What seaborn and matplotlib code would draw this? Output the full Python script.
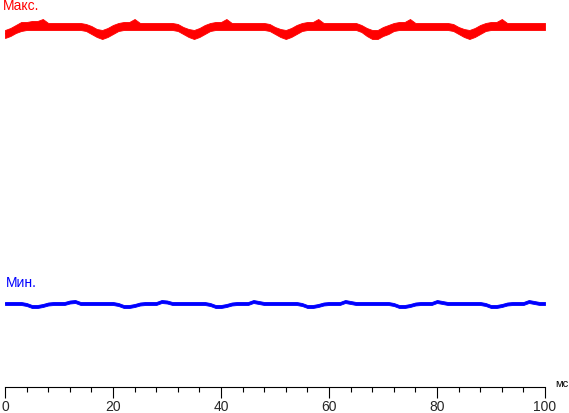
import pandas as pd
import seaborn as sns
import matplotlib.pyplot as plt
from matplotlib.ticker import MultipleLocator

# time axis, ms
t_ms = list(range(0, 101))

# envelope of the traces (units = px above the axis line)
max_top = [357, 359, 362, 365, 365, 366, 366, 368, 364, 364,
           364, 364, 364, 364, 364, 363, 361, 358, 357, 359,
           362, 364, 365, 365, 368, 364, 364, 364, 364, 364,
           364, 364, 363, 360, 358, 357, 359, 362, 364, 365,
           365, 368, 364, 364, 364, 364, 364, 364, 364, 363,
           360, 358, 357, 359, 362, 364, 365, 365, 368, 364,
           364, 364, 364, 364, 364, 364, 362, 359, 357, 357,
           360, 362, 364, 365, 365, 368, 364, 364, 364, 364,
           364, 364, 364, 363, 360, 358, 357, 359, 362, 364,
           365, 365, 368, 364, 364, 364, 364, 364, 364, 364,
           364]
max_bottom = [349, 351, 354, 356, 357, 357, 357, 357, 357, 357,
              357, 357, 357, 357, 357, 356, 353, 350, 348, 350,
              353, 356, 357, 357, 357, 357, 357, 357, 357, 357,
              357, 357, 356, 353, 350, 348, 350, 353, 356, 357,
              357, 357, 357, 357, 357, 357, 357, 357, 357, 356,
              353, 350, 348, 350, 353, 356, 357, 357, 357, 357,
              357, 357, 357, 357, 357, 357, 355, 351, 348, 348,
              351, 353, 356, 357, 357, 357, 357, 357, 357, 357,
              357, 357, 357, 356, 353, 350, 348, 350, 353, 356,
              357, 357, 357, 357, 357, 357, 357, 357, 357, 357,
              357]
min_top = [85, 85, 85, 85, 84, 82, 82, 83, 84.5, 85,
           85, 85, 86.5, 87, 85, 85, 85, 85, 85, 85,
           85, 84, 82, 82, 83, 84.5, 85, 85, 85, 87,
           86.5, 85, 85, 85, 85, 85, 85, 85, 84, 82,
           82, 83, 84.5, 85, 85, 85, 87, 86, 85, 85,
           85, 85, 85, 85, 85, 84, 82, 82, 83, 84.5,
           85, 85, 85, 87, 86, 85, 85, 85, 85, 85,
           85, 85, 84, 82, 82, 83, 84.5, 85, 85, 85,
           87, 86, 85, 85, 85, 85, 85, 85, 85, 84,
           82, 82, 83, 84.5, 85, 85, 85, 87, 86, 85,
           85]
min_bottom = [82, 82, 82, 82, 81, 79, 79, 80, 81.5, 82,
              82, 82, 83.5, 84, 82, 82, 82, 82, 82, 82,
              82, 81, 79, 79, 80, 81.5, 82, 82, 82, 84,
              83.5, 82, 82, 82, 82, 82, 82, 82, 81, 79,
              79, 80, 81.5, 82, 82, 82, 84, 83, 82, 82,
              82, 82, 82, 82, 82, 81, 79, 79, 80, 81.5,
              82, 82, 82, 84, 83, 82, 82, 82, 82, 82,
              82, 82, 81, 79, 79, 80, 81.5, 82, 82, 82,
              84, 83, 82, 82, 82, 82, 82, 82, 82, 81,
              79, 79, 80, 81.5, 82, 82, 82, 84, 83, 82,
              82]

sns.set_style("white")
plt.rcParams["font.family"] = ["Liberation Sans", "DejaVu Sans"]

# long form: two rows per time step -> seaborn band spans min..max
df_max = pd.DataFrame({"t": t_ms * 2, "v": max_top + max_bottom})
df_min = pd.DataFrame({"t": t_ms * 2, "v": min_top + min_bottom})

fig = plt.figure(figsize=(5.69, 4.14), dpi=100)
ax = fig.add_axes([5 / 569, 26 / 414, 540 / 569, 388 / 414])

for d, c in [(df_max, "#ff0000"), (df_min, "#0000ff")]:
    sns.lineplot(data=d, x="t", y="v", ax=ax, color=c, estimator="mean",
                 errorbar=("pi", 100), err_kws={"alpha": 1, "linewidth": 0.6},
                 linewidth=0.8, legend=False)

ax.set_xlim(0, 100)
ax.set_ylim(0, 388)
ax.set_xlabel("")
ax.set_ylabel("")
ax.set_yticks([])
for s in ["left", "right", "top"]:
    ax.spines[s].set_visible(False)
ax.spines["bottom"].set_color("black")
ax.spines["bottom"].set_linewidth(0.8)
ax.xaxis.set_major_locator(MultipleLocator(20))
ax.xaxis.set_minor_locator(MultipleLocator(4))
ax.tick_params(axis="x", which="major", direction="out", length=7.8, width=0.8,
               color="black", labelsize=10, pad=0.5, bottom=True)
ax.tick_params(axis="x", which="minor", direction="out", length=3.8, width=0.8,
               color="black", bottom=True)

fig.text(3 / 569, 1 - 10 / 414, "Макс.", color="#ff0000", fontsize=10, va="baseline")
fig.text(6 / 569, 1 - 287 / 414, "Мин.", color="#0000ff", fontsize=10, va="baseline")
fig.text(555 / 569, 1 - 387 / 414, "мс", color="black", fontsize=8, va="baseline")

fig.savefig("out.png", dpi=100)
